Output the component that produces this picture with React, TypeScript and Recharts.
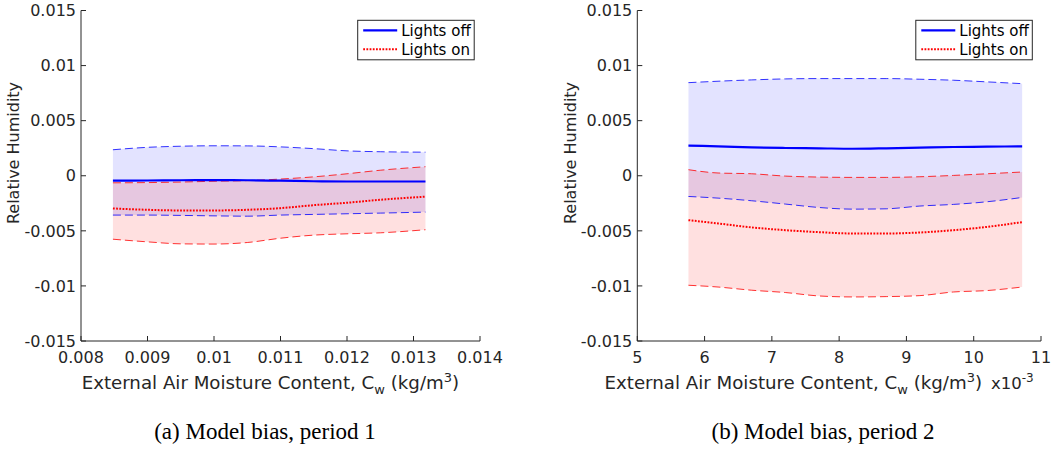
import React from 'react';
import { ComposedChart, Area, Line, XAxis, YAxis } from 'recharts';

// ---------- Data (period 1) ----------
const xPeriod1 = [0.00848, 0.009, 0.0095, 0.01, 0.0105, 0.011, 0.0115, 0.012, 0.0125, 0.01318];
const offMean1 = [-0.00045, -0.00043, -0.00041, -0.0004, -0.00041, -0.00045, -0.0005, -0.00052, -0.00052, -0.00052];
const offHigh1 = [0.00236, 0.00258, 0.00268, 0.00272, 0.00271, 0.00262, 0.00246, 0.00226, 0.00218, 0.00214];
const offLow1 = [-0.00357, -0.00357, -0.0036, -0.00364, -0.00367, -0.00357, -0.00351, -0.00345, -0.00339, -0.0033];
const onMean1 = [-0.00297, -0.00309, -0.00315, -0.00315, -0.00309, -0.00294, -0.00267, -0.00245, -0.00218, -0.0019];
const onHigh1 = [-0.00064, -0.00062, -0.00057, -0.0005, -0.00044, -0.0003, -0.0001, 0.00018, 0.0005, 0.00082];
const onLow1 = [-0.00576, -0.006, -0.00618, -0.0062, -0.00606, -0.00567, -0.00539, -0.00527, -0.00518, -0.0049];

// ---------- Data (period 2, x in units of 1e-3) ----------
const xPeriod2 = [5.76, 6.2, 6.7, 7.2, 7.7, 8.2, 8.7, 9.2, 9.7, 10.2, 10.72];
const offMean2 = [0.00273, 0.00267, 0.00258, 0.00252, 0.00249, 0.00245, 0.00249, 0.00255, 0.00261, 0.00264, 0.00267];
const offHigh2 = [0.00845, 0.00858, 0.0087, 0.00879, 0.00882, 0.00882, 0.00882, 0.00876, 0.00867, 0.00852, 0.00836];
const offLow2 = [-0.00188, -0.00203, -0.00227, -0.00257, -0.00288, -0.00303, -0.003, -0.00275, -0.0026, -0.00236, -0.00197];
const onMean2 = [-0.00403, -0.00433, -0.00469, -0.00494, -0.00512, -0.00524, -0.00524, -0.00515, -0.00494, -0.00464, -0.00421];
const onHigh2 = [0.00055, 0.00025, 0.00018, -0.00003, -0.00012, -0.00015, -0.00015, -0.00009, 0.00003, 0.00018, 0.00034];
const onLow2 = [-0.00994, -0.0101, -0.01039, -0.0106, -0.01091, -0.011, -0.01097, -0.01088, -0.01055, -0.01042, -0.0101];

// ---------- Ticks ----------
const yTicks = [-0.015, -0.01, -0.005, 0, 0.005, 0.01, 0.015];
const yTickLabels = ['-0.015', '-0.01', '-0.005', '0', '0.005', '0.01', '0.015'];
const xTicks1 = [0.008, 0.009, 0.01, 0.011, 0.012, 0.013, 0.014];
const xTickLabels1 = ['0.008', '0.009', '0.01', '0.011', '0.012', '0.013', '0.014'];
const xTicks2 = [5, 6, 7, 8, 9, 10, 11];
const xTickLabels2 = ['5', '6', '7', '8', '9', '10', '11'];

const legendLabels = ['Lights off', 'Lights on'];
const yLabel = 'Relative Humidity';
const captions = ['(a) Model bias, period 1', '(b) Model bias, period 2'];

const AX = '#262626';
const FONT = 'DejaVu Sans, Verdana, sans-serif';

function build(xs: number[], om: number[], oh: number[], ol: number[], nm: number[], nh: number[], nl: number[]) {
  return xs.map((x, i) => ({
    x,
    offMean: om[i],
    offHigh: oh[i],
    offLow: ol[i],
    offBand: [ol[i], oh[i]],
    onMean: nm[i],
    onHigh: nh[i],
    onLow: nl[i],
    onBand: [nl[i], nh[i]],
  }));
}

const data1 = build(xPeriod1, offMean1, offHigh1, offLow1, onMean1, onHigh1, onLow1);
const data2 = build(xPeriod2, offMean2, offHigh2, offLow2, onMean2, onHigh2, onLow2);

type PanelProps = {
  data: any[];
  xDomain: [number, number];
  xTicks: number[];
  xTickLabels: string[];
  width: number;
  margin: { top: number; right: number; bottom: number; left: number };
  yAxisWidth: number;
};

function Panel({ data, xDomain, xTicks, xTickLabels, width, margin, yAxisWidth }: PanelProps) {
  const tickStyle = { fontSize: 16, fill: AX, fontFamily: FONT };
  const xFmt = (v: number) => {
    const i = xTicks.findIndex((t) => Math.abs(t - v) < 1e-9);
    return i >= 0 ? xTickLabels[i] : String(v);
  };
  const yFmt = (v: number) => {
    const i = yTicks.findIndex((t) => Math.abs(t - v) < 1e-9);
    return i >= 0 ? yTickLabels[i] : String(v);
  };
  return (
    <ComposedChart width={width} height={449} data={data} margin={margin}>
      <XAxis
        xAxisId="b"
        dataKey="x"
        type="number"
        domain={xDomain}
        ticks={xTicks}
        tickFormatter={xFmt}
        allowDataOverflow
        height={30}
        tickSize={-5}
        tickMargin={16}
        stroke={AX}
        tick={tickStyle}
        interval={0}
      />
      <XAxis
        xAxisId="t"
        orientation="top"
        dataKey="x"
        type="number"
        domain={xDomain}
        ticks={xTicks}
        allowDataOverflow
        height={0}
        tickSize={-5}
        tick={false}
        stroke={AX}
        interval={0}
      />
      <YAxis
        yAxisId="l"
        type="number"
        domain={[-0.015, 0.015]}
        ticks={yTicks}
        tickFormatter={yFmt}
        allowDataOverflow
        width={yAxisWidth}
        tickSize={-5}
        tickMargin={10}
        stroke={AX}
        tick={tickStyle}
        interval={0}
      />
      <YAxis
        yAxisId="r"
        orientation="right"
        type="number"
        domain={[-0.015, 0.015]}
        ticks={yTicks}
        allowDataOverflow
        width={0}
        tickSize={-5}
        tick={false}
        stroke={AX}
        interval={0}
      />
      <Area xAxisId="b" yAxisId="l" type="monotone" dataKey="offBand" fill="#0000ff" fillOpacity={0.11} stroke="none" isAnimationActive={false} activeDot={false} />
      <Area xAxisId="b" yAxisId="l" type="monotone" dataKey="onBand" fill="#ff0000" fillOpacity={0.12} stroke="none" isAnimationActive={false} activeDot={false} />
      <Line xAxisId="b" yAxisId="l" type="monotone" dataKey="offHigh" stroke="#0000ff" strokeOpacity={0.8} strokeWidth={1} strokeDasharray="8 4" dot={false} activeDot={false} isAnimationActive={false} />
      <Line xAxisId="b" yAxisId="l" type="monotone" dataKey="offLow" stroke="#0000ff" strokeOpacity={0.8} strokeWidth={1} strokeDasharray="8 4" dot={false} activeDot={false} isAnimationActive={false} />
      <Line xAxisId="b" yAxisId="l" type="monotone" dataKey="onHigh" stroke="#ff0000" strokeOpacity={0.8} strokeWidth={1} strokeDasharray="8 4" dot={false} activeDot={false} isAnimationActive={false} />
      <Line xAxisId="b" yAxisId="l" type="monotone" dataKey="onLow" stroke="#ff0000" strokeOpacity={0.8} strokeWidth={1} strokeDasharray="8 4" dot={false} activeDot={false} isAnimationActive={false} />
      <Line xAxisId="b" yAxisId="l" type="monotone" dataKey="offMean" stroke="#0000ff" strokeWidth={2.2} dot={false} activeDot={false} isAnimationActive={false} />
      <Line xAxisId="b" yAxisId="l" type="monotone" dataKey="onMean" stroke="#ff0000" strokeWidth={2} strokeDasharray="1.8 1.4" dot={false} activeDot={false} isAnimationActive={false} />
    </ComposedChart>
  );
}

function LegendBox({ x, y }: { x: number; y: number }) {
  return (
    <g>
      <rect x={x} y={y} width={116.5} height={39.5} fill="#fff" stroke={AX} strokeWidth={1} />
      <line x1={x + 5.5} x2={x + 39.5} y1={y + 10} y2={y + 10} stroke="#0000ff" strokeWidth={2.2} />
      <line x1={x + 5.5} x2={x + 39.5} y1={y + 29} y2={y + 29} stroke="#ff0000" strokeWidth={2} strokeDasharray="1.8 1.4" />
      <text x={x + 43.5} y={y + 15.5} fontSize={15} fill="#000" fontFamily={FONT}>{legendLabels[0]}</text>
      <text x={x + 43.5} y={y + 34.5} fontSize={15} fill="#000" fontFamily={FONT}>{legendLabels[1]}</text>
    </g>
  );
}

function XLabel({ cx, y }: { cx: number; y: number }) {
  return (
    <text x={cx} y={y} textAnchor="middle" fontSize={18.2} fill={AX} fontFamily={FONT}>
      External Air Moisture Content, C
      <tspan dy={5} fontSize={13}>w</tspan>
      <tspan dy={-5}> (kg/m</tspan>
      <tspan dy={-7.5} fontSize={13}>3</tspan>
      <tspan dy={7.5}>)</tspan>
    </text>
  );
}

export default function App() {
  return (
    <div style={{ position: 'absolute', left: 0, top: 0, width: 1057, height: 449, background: '#fff', overflow: 'hidden' }}>
      <div style={{ position: 'absolute', left: 0, top: 0 }}>
        <Panel
          data={data1}
          xDomain={[0.008, 0.014]}
          xTicks={xTicks1}
          xTickLabels={xTickLabels1}
          width={530}
          margin={{ top: 10.5, right: 50, bottom: 78, left: 21 }}
          yAxisWidth={60}
        />
      </div>
      <div style={{ position: 'absolute', left: 530, top: 0 }}>
        <Panel
          data={data2}
          xDomain={[5, 11]}
          xTicks={xTicks2}
          xTickLabels={xTickLabels2}
          width={527}
          margin={{ top: 10.5, right: 16, bottom: 78, left: 27.3 }}
          yAxisWidth={80}
        />
      </div>
      <svg width={1057} height={449} style={{ position: 'absolute', left: 0, top: 0, pointerEvents: 'none' }}>
        <LegendBox x={357.7} y={20.3} />
        <LegendBox x={915.8} y={20.3} />
        <text transform="translate(18.5,153) rotate(-90)" textAnchor="middle" fontSize={16} fill={AX} fontFamily={FONT}>{yLabel}</text>
        <text transform="translate(576,153) rotate(-90)" textAnchor="middle" fontSize={16} fill={AX} fontFamily={FONT}>{yLabel}</text>
        <XLabel cx={270.4} y={389} />
        <XLabel cx={793.3} y={389} />
        <text x={991} y={389} fontSize={16.5} fill={AX} fontFamily={FONT}>
          x10<tspan dy={-7} fontSize={12}>-3</tspan>
        </text>
        <text x={265} y={439} textAnchor="middle" fontSize={23} fill="#000" fontFamily="Liberation Serif, Times New Roman, serif">{captions[0]}</text>
        <text x={823} y={439} textAnchor="middle" fontSize={23} fill="#000" fontFamily="Liberation Serif, Times New Roman, serif">{captions[1]}</text>
      </svg>
    </div>
  );
}
